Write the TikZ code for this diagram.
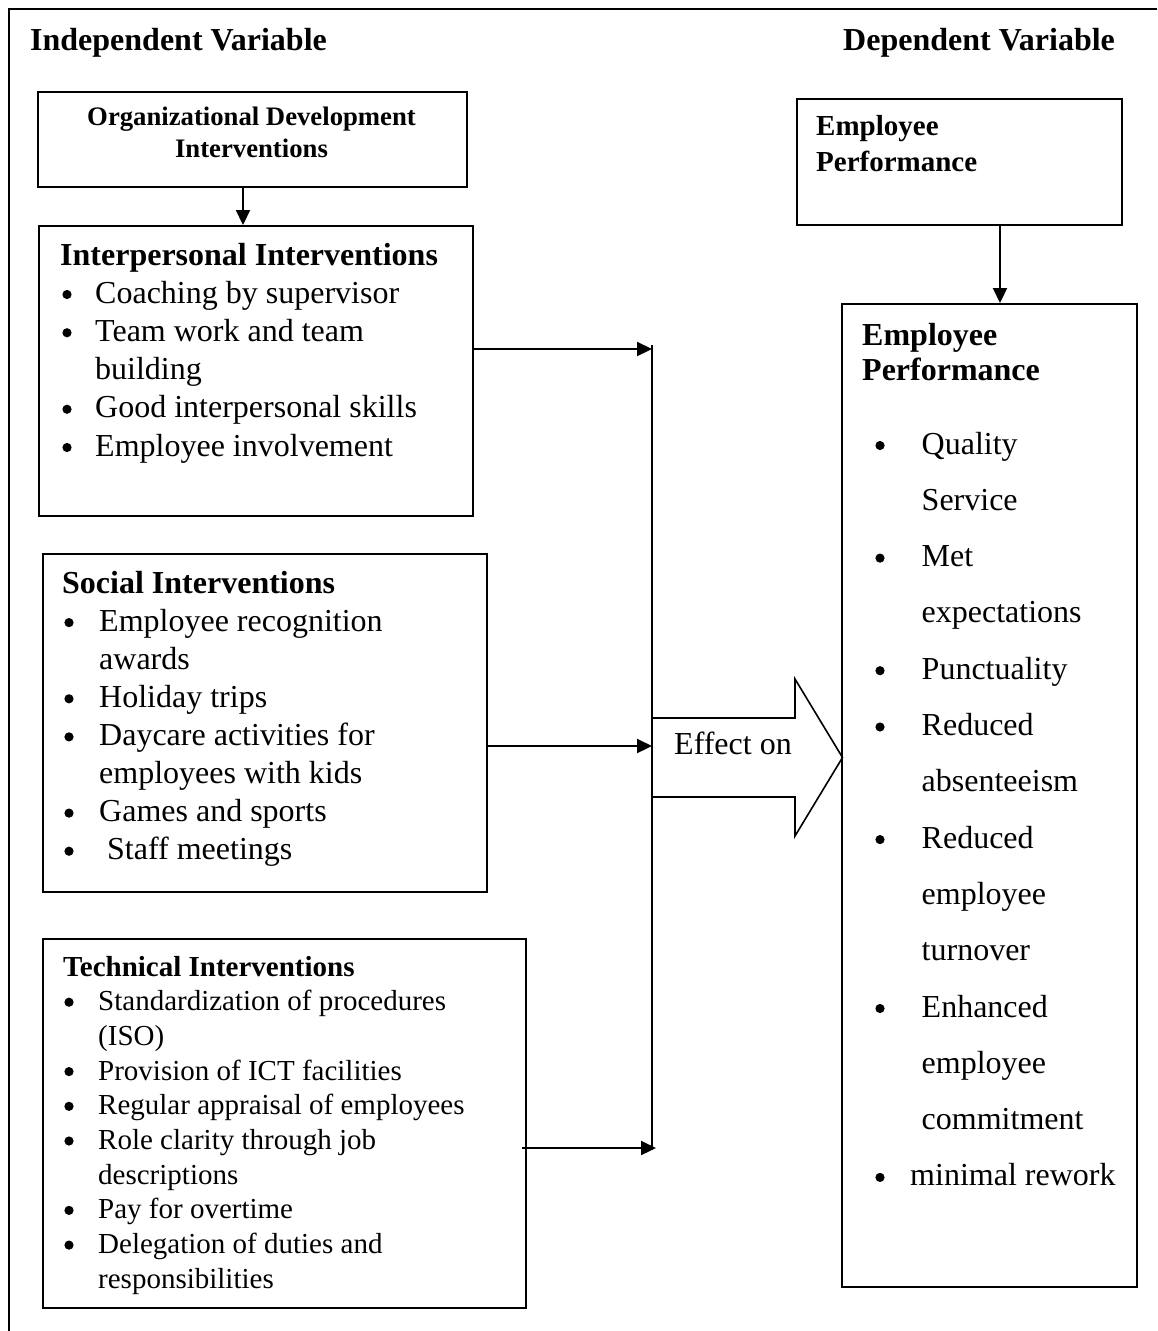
\documentclass[tikz,border=0pt]{standalone}
\usepackage{fontspec}
\setmainfont{Liberation Serif}
\usetikzlibrary{arrows.meta}
\tikzset{
  box/.style={draw, line width=2pt, inner sep=0pt, anchor=north west},
  t32/.style={anchor=base west, inner sep=0pt, font=\fontsize{32}{38}\selectfont},
  b32/.style={anchor=base west, inner sep=0pt, font=\fontsize{32}{38}\selectfont\bfseries},
  t29/.style={anchor=base west, inner sep=0pt, font=\fontsize{29}{34}\selectfont},
  b29/.style={anchor=base west, inner sep=0pt, font=\fontsize{29}{34}\selectfont\bfseries},
  b26/.style={anchor=base, inner sep=0pt, font=\fontsize{26.7}{32}\selectfont\bfseries},
  arr/.style={line width=2.2pt, -{Triangle[length=15pt,width=14pt]}},
  plain/.style={line width=2pt}
}
\newcommand{\bul}[2]{\fill (#1,#2-8.5) circle (4.6pt);}
\begin{document}
\begin{tikzpicture}[x=1pt,y=-1pt]
\useasboundingbox (0,0) rectangle (1157,1331);
% outer frame (top and left edges)
\draw[plain] (9,1331) -- (9,9) -- (1157,9);

% headers
\node[b32] (indep) at (30,50) {Independent Variable};
\node[b32] (dep) at (843,50) {Dependent Variable};

% Organizational Development box
\node[box, minimum width=429pt, minimum height=95pt] (od) at (37,91) {};
\node[b26] (od1) at (251.5,125) {Organizational Development};
\node[b26] (od2) at (251.5,157) {Interventions};

% Interpersonal box
\node[box, minimum width=434pt, minimum height=290pt] (ip) at (38,225) {};
\node[b32] (iph) at (60,265) {Interpersonal Interventions};
\bul{67}{303}
\node[t32] (ip1) at (95,303) {Coaching by supervisor};
\bul{67}{341.25}
\node[t32] (ip2) at (95,341.25) {Team work and team};
\node[t32] (ip2b) at (95,379.5) {building};
\bul{67}{417.75}
\node[t32] (ip3) at (95,417.75) {Good interpersonal skills};
\bul{67}{456}
\node[t32] (ip4) at (95,456) {Employee involvement};

% Social box
\node[box, minimum width=444pt, minimum height=338pt] (so) at (42,553) {};
\node[b32] (soh) at (62,593) {Social Interventions};
\bul{69}{631.1}
\node[t32] (so1) at (99,631.1) {Employee recognition};
\node[t32] (so1b) at (99,669.2) {awards};
\bul{69}{707.3}
\node[t32] (so2) at (99,707.3) {Holiday trips};
\bul{69}{745.4}
\node[t32] (so3) at (99,745.4) {Daycare activities for};
\node[t32] (so3b) at (99,783.5) {employees with kids};
\bul{69}{821.6}
\node[t32] (so4) at (99,821.6) {Games and sports};
\bul{69}{859.7}
\node[t32] (so5) at (107,859.7) {Staff meetings};

% Technical box
\node[box, minimum width=483pt, minimum height=369pt] (tc) at (42,938) {};
\node[b29] (tch) at (63,976) {Technical Interventions};
\bul{69}{1010.7}
\node[t29] (tc1) at (98,1010.7) {Standardization of procedures};
\node[t29] (tc1b) at (98,1045.4) {(ISO)};
\bul{69}{1080.1}
\node[t29] (tc2) at (98,1080.1) {Provision of ICT facilities};
\bul{69}{1114.8}
\node[t29] (tc3) at (98,1114.8) {Regular appraisal of employees};
\bul{69}{1149.5}
\node[t29] (tc4) at (98,1149.5) {Role clarity through job};
\node[t29] (tc4b) at (98,1184.2) {descriptions};
\bul{69}{1218.9}
\node[t29] (tc5) at (98,1218.9) {Pay for overtime};
\bul{69}{1253.6}
\node[t29] (tc6) at (98,1253.6) {Delegation of duties and};
\node[t29] (tc6b) at (98,1288.3) {responsibilities};

% Employee Performance (top)
\node[box, minimum width=325pt, minimum height=126pt] (ept) at (796,98) {};
\node[b29] (ept1) at (816,135) {Employee};
\node[b29] (ept2) at (816,171.7) {Performance};

% Employee Performance (big)
\node[box, minimum width=295.5pt, minimum height=983pt] (epb) at (840.5,303) {};
\node[b32] (epb1) at (862,345) {Employee};
\node[b32] (epb2) at (862,380.3) {Performance};
\bul{880}{454}
\node[t32] (e1) at (921.5,454) {Quality};
\node[t32] (e1b) at (921.5,510.3) {Service};
\bul{880}{566.6}
\node[t32] (e2) at (921.5,566.6) {Met};
\node[t32] (e2b) at (921.5,622.9) {expectations};
\bul{880}{679.2}
\node[t32] (e3) at (921.5,679.2) {Punctuality};
\bul{880}{735.5}
\node[t32] (e4) at (921.5,735.5) {Reduced};
\node[t32] (e4b) at (921.5,791.8) {absenteeism};
\bul{880}{848.1}
\node[t32] (e5) at (921.5,848.1) {Reduced};
\node[t32] (e5b) at (921.5,904.4) {employee};
\node[t32] (e5c) at (921.5,960.7) {turnover};
\bul{880}{1017}
\node[t32] (e6) at (921.5,1017) {Enhanced};
\node[t32] (e6b) at (921.5,1073.3) {employee};
\node[t32] (e6c) at (921.5,1129.6) {commitment};
\bul{880}{1185.9}
\node[t32] (e7) at (910,1185.9) {minimal rework};

% connector coordinates
\coordinate (odx) at (243,0);
\coordinate (epx) at (1000,0);
\coordinate (vtop) at (652,345);
\coordinate (v1) at (652,349);
\coordinate (v2) at (652,746);
\coordinate (v3) at (656,1148);
\coordinate (vbot) at (652,1150);

% vertical collector line
\draw[plain] (vtop) -- (vbot);

% arrows
\draw[arr] (od.south -| odx) -- (ip.north -| odx);
\draw[arr] (ept.south -| epx) -- (epb.north -| epx);
\draw[arr] (ip.east |- v1) -- (v1);
\draw[arr] (so.east |- v2) -- (v2);
\draw[arr] ([xshift=-5pt]tc.east |- v3) -- (v3);

% block arrow "Effect on"
\draw[line width=1.6pt, line join=miter] (652,718) -- (795,718) -- (795,679) -- (842.5,757.5) -- (795,836) -- (795,797) -- (652,797);
\node[t32] (eff) at (674,754.5) {Effect on};
\end{tikzpicture}
\end{document}
